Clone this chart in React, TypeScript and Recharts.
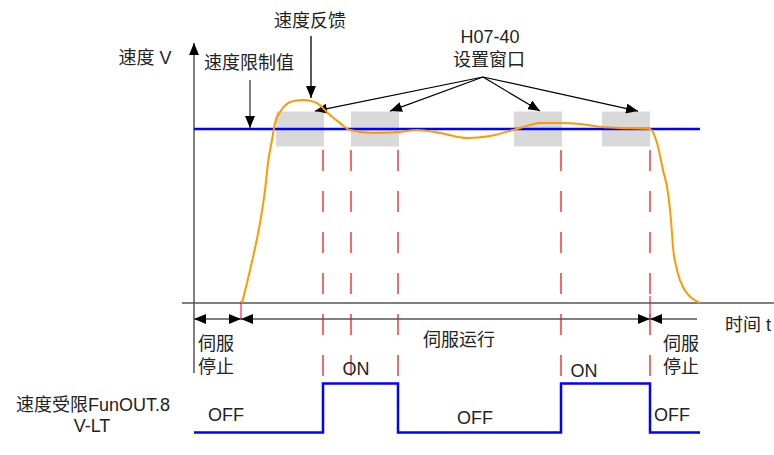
import { ComposedChart, Line, ReferenceArea, ReferenceLine, XAxis, YAxis } from "recharts";

// speed feedback curve: time (1 unit) vs speed (% of limit)
const TIME = [4.8, 5.3, 5.9, 6.6, 7.1, 7.4, 7.8, 8.1, 8.6, 9.4, 10.1, 10.9, 11.6, 12.3, 13.6, 14.6, 15.6, 17.9, 20.6, 22.3, 24.6, 27.3, 29.6, 31.9, 33.6, 34.6, 36.6, 38.6, 40.8, 42.6, 45.6, 46.3, 46.9, 47.4, 47.7, 47.9, 48.3, 48.9, 50.6];
const SPEED = [0, 11.5, 26.4, 46, 64.9, 80.5, 93.7, 103.4, 109.8, 114.9, 116.2, 116.7, 116.2, 114.9, 108, 103.4, 99.4, 97.7, 98.3, 99.4, 97.7, 94.8, 96, 99.4, 102.3, 103.4, 103.4, 102.9, 101.1, 100.6, 100, 92, 76.4, 63.2, 47.7, 32.2, 19, 9.2, 0];

const LIMIT = 100;
const WINDOW = [90, 110];
const WINDOW_T = [
  [8.2, 13.0],
  [15.7, 20.5],
  [32.0, 36.8],
  [40.8, 45.6],
];

// V-LT output signal
const SIG_T = [0, 12.9, 20.4, 36.7, 45.6, 50.6];
const SIG_V = [0, 1, 0, 1, 0, 0];

const EDGE_T = [12.9, 15.7, 20.4, 36.7, 45.6];
const RUN_START = 4.7;
const RUN_END = 45.6;
const END_T = 50.3;

const curve = TIME.map((t, i) => ({ t, v: SPEED[i] }));
const signal = SIG_T.map((t, i) => ({ t, s: SIG_V[i] }));

const FONT = "'Liberation Sans', Arial, 'Noto Sans CJK SC', sans-serif";

const arrow =
  (color: string, w: number, start: boolean, end: boolean, dash?: string) =>
  (p: any) => (
    <line
      x1={p.x1}
      y1={p.y1}
      x2={p.x2}
      y2={p.y2}
      stroke={color}
      strokeWidth={w}
      strokeDasharray={dash}
      markerStart={start ? "url(#ahs)" : undefined}
      markerEnd={end ? "url(#ah)" : undefined}
    />
  );

const TEXTS: { s: string; x: number; y: number; a?: "start" | "middle" }[] = [
  { s: "速度 V", x: 145, y: 64 },
  { s: "速度限制值", x: 249, y: 69 },
  { s: "速度反馈", x: 310, y: 27 },
  { s: "H07-40", x: 490, y: 43 },
  { s: "设置窗口", x: 489, y: 66 },
  { s: "伺服", x: 216, y: 350 },
  { s: "停止", x: 216, y: 373 },
  { s: "伺服运行", x: 459, y: 346 },
  { s: "伺服", x: 681, y: 350 },
  { s: "停止", x: 681, y: 373 },
  { s: "时间 t", x: 725, y: 331, a: "start" },
  { s: "ON", x: 356, y: 375 },
  { s: "ON", x: 584, y: 377 },
  { s: "OFF", x: 226, y: 421 },
  { s: "OFF", x: 475, y: 424 },
  { s: "OFF", x: 672, y: 421 },
  { s: "速度受限FunOUT.8", x: 93, y: 411 },
  { s: "V-LT", x: 92, y: 432 },
];

export default function App() {
  return (
    <div style={{ position: "absolute", left: 0, top: 0, width: 774, height: 455, background: "#fff" }}>
      <svg width={0} height={0} style={{ position: "absolute" }}>
        <defs>
          <marker id="ah" viewBox="0 0 12 10" refX="12" refY="5" markerWidth="12" markerHeight="10" markerUnits="userSpaceOnUse" orient="auto">
            <path d="M0,0 L12,5 L0,10 z" fill="#000" />
          </marker>
          <marker id="ahs" viewBox="0 0 12 10" refX="12" refY="5" markerWidth="12" markerHeight="10" markerUnits="userSpaceOnUse" orient="auto-start-reverse">
            <path d="M0,0 L12,5 L0,10 z" fill="#000" />
          </marker>
        </defs>
      </svg>
      <ComposedChart width={774} height={455} margin={{ top: 7.2, right: 0, bottom: 12.8, left: 182 }}>
        <XAxis dataKey="t" type="number" domain={[-1.2, 58]} hide allowDataOverflow />
        <YAxis yAxisId="v" type="number" domain={[-80, 170]} hide allowDataOverflow />
        <YAxis yAxisId="s" type="number" domain={[-0.2, 8.7]} hide allowDataOverflow />

        {WINDOW_T.map(([a, b], i) => (
          <ReferenceArea key={i} yAxisId="v" x1={a} x2={b} y1={WINDOW[0]} y2={WINDOW[1]} fill="#d9d9d9" fillOpacity={1} stroke="none" />
        ))}

        {EDGE_T.map((t) => (
          <ReferenceLine key={t} yAxisId="v" segment={[{ x: t, y: 88 }, { x: t, y: -44 }]} shape={arrow("#ee1c1c", 1.3, false, false, "21 20")} />
        ))}
        <ReferenceLine yAxisId="v" segment={[{ x: RUN_START, y: 1 }, { x: RUN_START, y: -9.5 }]} shape={arrow("#f36", 1.3, false, false)} />
        <ReferenceLine yAxisId="v" segment={[{ x: RUN_END, y: 4 }, { x: RUN_END, y: -9.5 }]} shape={arrow("#f36", 1.3, false, false)} />

        {/* axes */}
        <ReferenceLine yAxisId="v" segment={[{ x: 0, y: -40.2 }, { x: 0, y: 149.4 }]} shape={arrow("#555", 1.5, false, true)} />
        <ReferenceLine yAxisId="v" segment={[{ x: -1.2, y: 0 }, { x: 58, y: 0 }]} shape={arrow("#555", 1.5, false, false)} />
        <ReferenceLine yAxisId="v" segment={[{ x: 0, y: -9.2 }, { x: RUN_START, y: -9.2 }]} shape={arrow("#555", 1.5, true, true)} />
        <ReferenceLine yAxisId="v" segment={[{ x: RUN_START, y: -9.2 }, { x: RUN_END, y: -9.2 }]} shape={arrow("#555", 1.5, true, true)} />
        <ReferenceLine yAxisId="v" segment={[{ x: RUN_END, y: -9.2 }, { x: END_T, y: -9.2 }]} shape={arrow("#555", 1.5, true, false)} />

        <ReferenceLine yAxisId="v" segment={[{ x: 0, y: LIMIT }, { x: 50.6, y: LIMIT }]} stroke="#0000ff" strokeWidth={2.5} />

        {/* annotations */}
        <ReferenceLine yAxisId="v" segment={[{ x: 11.7, y: 153.4 }, { x: 11.7, y: 117.8 }]} shape={arrow("#000", 1.3, false, true)} />
        <ReferenceLine yAxisId="v" segment={[{ x: 5.6, y: 128.2 }, { x: 5.6, y: 100.6 }]} shape={arrow("#555", 1.5, false, true)} />
        {[12.1, 19.6, 34.6, 44.4].map((t) => (
          <ReferenceLine key={t} yAxisId="v" segment={[{ x: 28.9, y: 129.9 }, { x: t, y: 110.3 }]} shape={arrow("#000", 1.2, false, true)} />
        ))}

        <Line yAxisId="v" data={curve} dataKey="v" type="monotone" stroke="#ff9900" strokeWidth={2} dot={false} isAnimationActive={false} />
        <Line yAxisId="s" data={signal} dataKey="s" type="stepAfter" stroke="#0000ff" strokeWidth={2.5} dot={false} isAnimationActive={false} />
      </ComposedChart>
      <svg width={774} height={455} style={{ position: "absolute", left: 0, top: 0, pointerEvents: "none" }}>
        {TEXTS.map((d, i) => (
          <text key={i} x={d.x} y={d.y} textAnchor={d.a ?? "middle"} fontFamily={FONT} fontSize={18} fill="#222">
            {d.s}
          </text>
        ))}
      </svg>
    </div>
  );
}
